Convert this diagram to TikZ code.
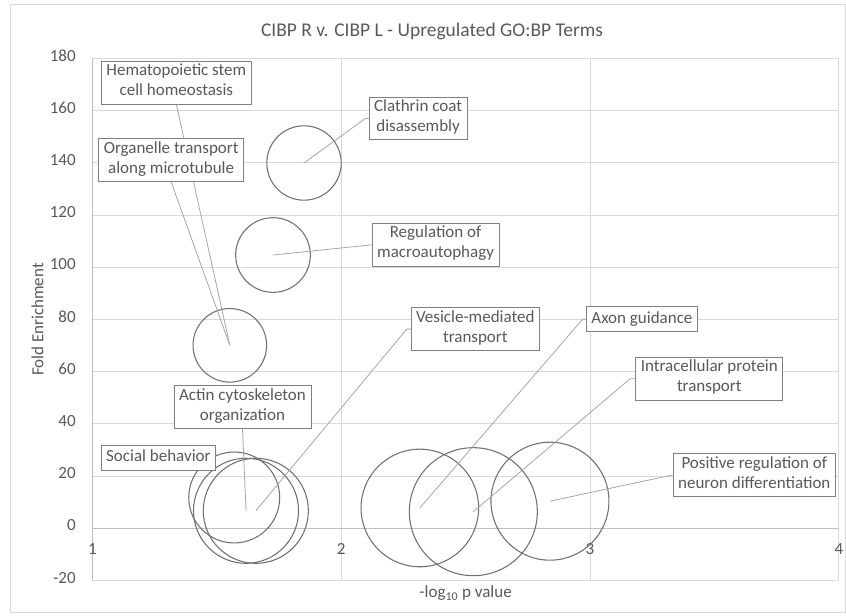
\documentclass[tikz,border=0pt]{standalone}
\usepackage{fontspec}
\setmainfont{Carlito}
\usetikzlibrary{calc}
\usetikzlibrary{positioning}

\definecolor{txtgray}{HTML}{595959}
\definecolor{gridgray}{HTML}{D9D9D9}
\definecolor{axisgray}{HTML}{BFBFBF}
\definecolor{bubblegray}{HTML}{707070}
\definecolor{leadgray}{HTML}{A6A6A6}
\definecolor{boxgray}{HTML}{7F7F7F}

\newcommand{\lblfont}{\fontsize{12.75}{15}\selectfont}

\begin{document}
\begin{tikzpicture}[x=186.6pt, y=1.9575pt,
  bubble/.style={bubblegray, line width=0.8pt},
  leader/.style={leadgray, line width=0.6pt},
  golabel/.style={draw=boxgray, line width=0.6pt, fill=white, text=txtgray, font=\lblfont, align=center,
    inner xsep=3.8pt, inner ysep=1.9pt, execute at begin node=\strut, execute at end node=\strut},
  ticklabel/.style={text=txtgray, font=\lblfont, inner sep=0pt}]
\useasboundingbox (0.6286,-33.60) rectangle (4.0289,202.41);
\draw[gridgray, line width=0.75pt] (0.6728,-32.45) rectangle (4.0249,200.5);

\foreach \y in {-20,20,40,...,180}
\draw[gridgray, line width=0.75pt] (1,\y) -- (4,\y);
\foreach \x in {2,3,4}
\draw[gridgray, line width=0.75pt] (\x,-20) -- (\x,180);
\draw[axisgray, line width=0.75pt] (1,-20) -- (1,180);
\draw[axisgray, line width=0.75pt] (1,0) -- (4,0);

\foreach \y in {-20,0,...,180}
\node[ticklabel, anchor=base east, yshift=-1.9pt] (ytick\y) at (0.934,\y) {\y};
\foreach \x in {1,...,4}
\node[ticklabel, anchor=base] (xtick\x) at (\x,-10.23) {\x};

\coordinate (pSocial) at (1.570,11.80);
\coordinate (pActin) at (1.6174,6.70);
\coordinate (pVesicle) at (1.6568,6.70);
\coordinate (pAxon) at (2.316,7.78);
\coordinate (pIntra) at (2.531,6.36);
\coordinate (pNeuron) at (2.839,10.38);
\coordinate (pClathrin) at (1.8505,139.96);
\coordinate (pMacro) at (1.7259,104.7);
\coordinate (pOrganelle) at (1.5523,70.1);

\foreach \p/\r in {pSocial/34.1, pActin/39.4, pVesicle/39.4, pAxon/44.1, pIntra/48, pNeuron/44.25, pClathrin/27.9, pMacro/28, pOrganelle/27.6}
\draw[bubble] (\p) circle[radius=\r pt];

\node[golabel, anchor=north west] (hemato) at (1.0346,179.04) {Hematopoietic stem\\cell homeostasis};
\draw[leader] (hemato.south) -- (pOrganelle);
\node[golabel, anchor=north west] (organelle) at (1.0237,149.43) {Organelle transport\\along microtubule};
\draw[leader] (organelle.south) -- (pOrganelle);
\node[golabel, anchor=west] (clathrin) at (2.1105,157.03) {Clathrin coat\\disassembly};
\draw[leader] (pClathrin) -- ([xshift=-2.5pt]clathrin.west) -- (clathrin.west);
\node[golabel, anchor=west] (macro) at (2.1226,108.54) {Regulation of\\macroautophagy};
\draw[leader] (pMacro) -- ([xshift=-1pt]macro.west) -- (macro.west);
\node[golabel, anchor=west] (vesicle) at (2.2793,76.30) {Vesicle-mediated\\transport};
\draw[leader] (pVesicle) -- ([xshift=-3pt]vesicle.west) -- (vesicle.west);
\node[golabel, anchor=west] (axon) at (2.9839,80.11) {Axon guidance};
\draw[leader] (pAxon) -- ([xshift=-2.5pt]axon.west) -- (axon.west);
\node[golabel, anchor=west] (intra) at (3.1821,57.26) {Intracellular protein\\transport};
\draw[leader] (pIntra) -- ([xshift=-4pt]intra.west) -- (intra.west);
\node[golabel, anchor=west] (neuron) at (3.3324,20.34) {Positive regulation of\\neuron differentiation};
\draw[leader] (pNeuron) -- ([xshift=-1pt]neuron.west) -- (neuron.west);
\node[golabel] (actin) at (1.6033,46.42) {Actin cytoskeleton\\organization};
\draw[leader] (actin.south) -- (pActin);
\node[golabel, anchor=west] (social) at (1.0334,27.01) {Social behavior};

\node[text=txtgray, font=\fontsize{14.6}{17}\selectfont, anchor=base] (title) at (2.365,188.6) {CIBP R v. CIBP L - Upregulated GO:BP Terms};
\node[text=txtgray, font=\lblfont, anchor=base] (xtitle) at (2.5,-26.7) {-log\textsubscript{10} p value};
\node[text=txtgray, font=\lblfont, anchor=base, rotate=90] (ytitle) at (0.8027,80) {Fold Enrichment};

\end{tikzpicture}
\end{document}
